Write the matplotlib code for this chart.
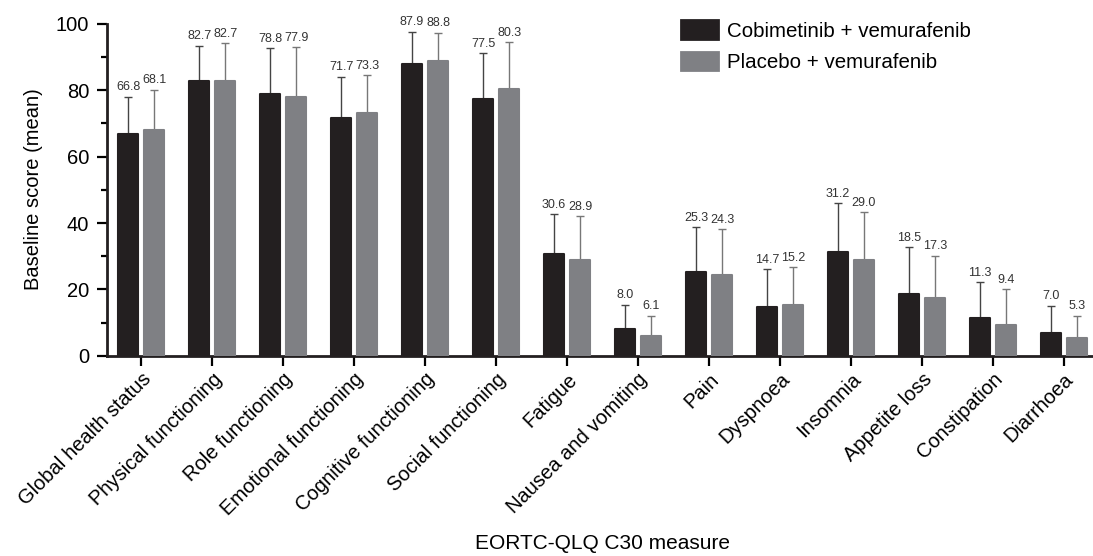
import numpy as np
import matplotlib.pyplot as plt
from matplotlib.patches import Patch

plt.rcParams['font.family'] = ['Liberation Sans', 'DejaVu Sans']

measures = ['Global health status', 'Physical functioning', 'Role functioning',
            'Emotional functioning', 'Cognitive functioning', 'Social functioning',
            'Fatigue', 'Nausea and vomiting', 'Pain', 'Dyspnoea', 'Insomnia',
            'Appetite loss', 'Constipation', 'Diarrhoea']
cobi_mean = [66.8, 82.7, 78.8, 71.7, 87.9, 77.5, 30.6, 8.0, 25.3, 14.7, 31.2, 18.5, 11.3, 7.0]
plac_mean = [68.1, 82.7, 77.9, 73.3, 88.8, 80.3, 28.9, 6.1, 24.3, 15.2, 29.0, 17.3, 9.4, 5.3]
# upper ends of the error bars
cobi_top = [78.1, 93.4, 92.7, 84.1, 97.7, 91.2, 42.7, 15.4, 38.7, 26.1, 46.0, 32.7, 22.1, 15.1]
plac_top = [80.1, 94.1, 93.0, 84.5, 97.4, 94.4, 42.0, 12.1, 38.1, 26.7, 43.3, 30.1, 20.1, 12.1]

black = '#231f20'
grey = '#7f8084'

fig = plt.figure(figsize=(10.93, 5.56), dpi=100)
ax = fig.add_axes([0.098, 0.36, 0.902, 0.597])

x = np.arange(len(measures))
off = 0.183
w = 0.29
cobi_err = np.array(cobi_top) - np.array(cobi_mean)
plac_err = np.array(plac_top) - np.array(plac_mean)

ax.bar(x - off, cobi_mean, w, color=black, edgecolor=black, linewidth=1.5,
       joinstyle='round', zorder=3)
ax.bar(x + off, plac_mean, w, color=grey, edgecolor=grey, linewidth=1.5,
       joinstyle='round', zorder=3)
ax.errorbar(x - off, cobi_mean, yerr=[np.zeros_like(cobi_err), cobi_err], fmt='none',
            ecolor='#444444', elinewidth=1.0, capsize=3.2, capthick=1.0, zorder=2)
ax.errorbar(x + off, plac_mean, yerr=[np.zeros_like(plac_err), plac_err], fmt='none',
            ecolor='#777777', elinewidth=1.0, capsize=3.2, capthick=1.0, zorder=2)

for xi, m, t in zip(x - off, cobi_mean, cobi_top):
    ax.annotate(f'{m:.1f}', (xi, t), xytext=(0, 2.5), textcoords='offset points',
                ha='center', va='bottom', fontsize=9, color='#333333')
for xi, m, t in zip(x + off, plac_mean, plac_top):
    ax.annotate(f'{m:.1f}', (xi, t), xytext=(0, 2.5), textcoords='offset points',
                ha='center', va='bottom', fontsize=9, color='#333333')

ax.set_xlim(-0.48, 13.41)
ax.set_ylim(0, 100)
ax.set_yticks([0, 20, 40, 60, 80, 100])
ax.set_yticks([10, 30, 50, 70, 90], minor=True)
ax.set_xticks(x)
ax.set_xticklabels(measures, rotation=45, ha='right', rotation_mode='anchor', fontsize=14.5)
ax.tick_params(axis='y', which='major', labelsize=14.5, length=7, width=1.6, direction='out', pad=6)
ax.tick_params(axis='y', which='minor', length=4, width=1.6, direction='out')
ax.tick_params(axis='x', length=7, width=1.6, direction='out', pad=3)
for s in ['top', 'right']:
    ax.spines[s].set_visible(False)
for s in ['left', 'bottom']:
    ax.spines[s].set_linewidth(2)
    ax.spines[s].set_color('#231f20')

fig.text(0.031, 0.659, 'Baseline score (mean)', rotation=90, ha='center', va='center',
         fontsize=14.5)
fig.text(0.551, 0.012, 'EORTC-QLQ C30 measure', ha='center', va='baseline', fontsize=15)

handles = [Patch(facecolor=black, edgecolor=black, linewidth=2, joinstyle='round',
                 label='Cobimetinib + vemurafenib'),
           Patch(facecolor=grey, edgecolor=grey, linewidth=2, joinstyle='round',
                 label='Placebo + vemurafenib')]
fig.legend(handles=handles, loc='upper left', bbox_to_anchor=(0.614, 0.982), frameon=False,
           fontsize=14.8, handlelength=1.8, handleheight=1.0, handletextpad=0.4,
           labelspacing=0.55, borderpad=0)

fig.savefig('out.png', dpi=100)
